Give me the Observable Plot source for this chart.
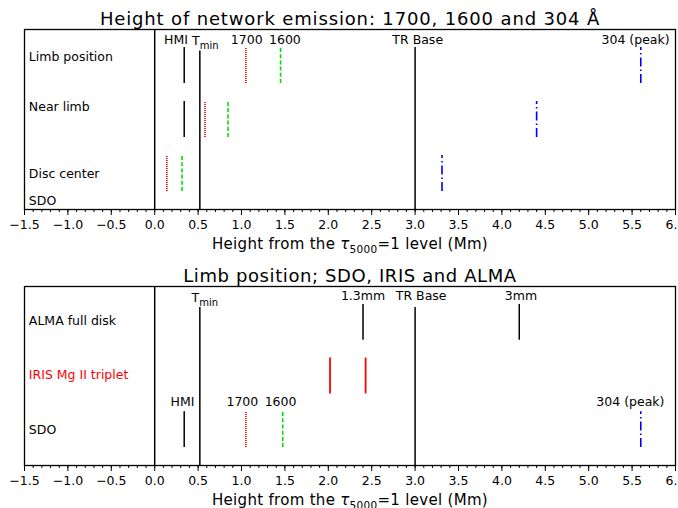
<!DOCTYPE html>
<html><head><meta charset="utf-8">
<script src="https://cdn.jsdelivr.net/npm/d3@7"></script>
<script src="https://cdn.jsdelivr.net/npm/@observablehq/plot@0.6"></script>
<style>body{margin:0;background:#fff} svg{display:block}</style>
</head><body><div id="chart"></div>
<script>
// ---------- data ----------
const xDomain = [-1.5, 6.0];
const majorTicks = d3.range(-15, 61, 5).map(d => d / 10);
const minorTicks = d3.range(-15, 61, 1).map(d => d / 10);
const axisLabel = "Height from the τ5000=1 level (Mm)";

// reference heights (Mm)
const tmin = 0.52;
const trBase = 3.0;

// panel 1: network emission heights per position
const title1 = "Height of network emission: 1700, 1600 and 304 Å";
const rows1 = ["Limb position", "Near limb", "Disc center"];
const hmi1 = [0.34, 0.34];
const h1700_1 = [1.05, 0.58, 0.14];
const h1600_1 = [1.45, 0.845, 0.315];
const h304_1 = [5.60, 4.40, 3.31];
const topNames1 = ["HMI", "1700", "1600", "TR Base", "304 (peak)"];
const topAt1 = [0.245, 1.06, 1.50, 3.03, 5.54];

// panel 2: limb position, SDO / IRIS / ALMA
const title2 = "Limb position; SDO, IRIS and ALMA";
const rows2 = ["ALMA full disk", "IRIS Mg II triplet", "SDO"];
const almaNames = ["1.3mm", "3mm"];
const almaH = [2.40, 4.20];
const irisH = [2.02, 2.43];
const sdoNames = ["HMI", "1700", "1600", "304 (peak)"];
const sdoH = [0.34, 1.05, 1.475, 5.60];
const sdoAt = [0.32, 1.01, 1.45, 5.48];
const topNames2 = ["1.3mm", "TR Base", "3mm"];
const topAt2 = [2.40, 3.07, 4.22];

// ---------- styles / layout ----------
const FONT = "'DejaVu Sans', sans-serif";
const S = {
  black:   {stroke: "black", strokeWidth: 1.5},
  dotted:  {stroke: "#ff0000", strokeWidth: 1.7, strokeDasharray: "1,1"},
  dashed:  {stroke: "#00dd00", strokeWidth: 1.6, strokeDasharray: "4,2.2"},
  dashdot: {stroke: "#0000ff", strokeWidth: 1.6, strokeDasharray: "9,3,1.5,3"},
  red:     {stroke: "#ff0000", strokeWidth: 1.8}
};
const seg = (x, i) => ({x, y1: 7 - 3 * i, y2: 9 - 3 * i});
const segs = arr => arr.map((x, i) => seg(x, i));

function panel(title, mt, mb, marks) {
  return Plot.plot({
    width: 678, height: 254,
    marginTop: mt, marginBottom: mb, marginLeft: 24, marginRight: 3,
    x: {domain: xDomain, axis: null, label: null},
    y: {domain: [0, 10], axis: null, label: null},
    style: {fontFamily: FONT, fontSize: "12.5px", background: "white", color: "black"},
    marks: [
      Plot.ruleX([0], {x: d => d, ...S.black}),
      ...marks,
      Plot.frame({stroke: "black", strokeWidth: 1.3}),
      Plot.axisX({ticks: minorTicks, tickSize: 3, tickFormat: () => "", label: null}),
      Plot.axisX({ticks: majorTicks, tickSize: 6, tickPadding: 5, tickFormat: d3.format(".1f"), fontSize: 12.5, label: null}),
      Plot.text([title], {text: d => d, frameAnchor: "top", lineAnchor: "bottom", dy: -5, fontSize: 18}),
      Plot.text([axisLabel], {text: d => d, frameAnchor: "bottom", lineAnchor: "bottom", dy: 39, fontSize: 15})
    ]
  });
}

const p1 = panel(title1, 29, 45, [
  Plot.ruleX([tmin], {x: d => d, y1: 0, y2: 8.8, ...S.black}),
  Plot.ruleX([trBase], {x: d => d, y1: 0, y2: 9.0, ...S.black}),
  Plot.ruleX(segs(hmi1), {x: "x", y1: "y1", y2: "y2", ...S.black}),
  Plot.ruleX(segs(h1700_1), {x: "x", y1: "y1", y2: "y2", ...S.dotted}),
  Plot.ruleX(segs(h1600_1), {x: "x", y1: "y1", y2: "y2", ...S.dashed}),
  Plot.ruleX(segs(h304_1), {x: "x", y1: "y1", y2: "y2", ...S.dashdot}),
  Plot.text(topNames1, {x: (d, i) => topAt1[i], y: 9.22, text: d => d, lineAnchor: "bottom"}),
  Plot.text(["Tmin"], {x: 0.43, y: 9.13, text: d => d, textAnchor: "start", lineAnchor: "bottom"}),
  Plot.text(rows1.concat(["SDO"]), {x: -1.45, y: (d, i) => [8.45, 5.72, 1.97, 0.45][i], text: d => d, textAnchor: "start", lineAnchor: "middle"})
]);

const p2 = panel(title2, 32, 43, [
  Plot.ruleX([tmin], {x: d => d, y1: 0, y2: 8.83, ...S.black}),
  Plot.ruleX([trBase], {x: d => d, y1: 0, y2: 8.83, ...S.black}),
  Plot.ruleX(almaH.map(x => seg(x, 0)), {x: "x", y1: "y1", y2: "y2", ...S.black}),
  Plot.ruleX(irisH.map(x => seg(x, 1)), {x: "x", y1: "y1", y2: "y2", ...S.red}),
  Plot.ruleX([seg(sdoH[0], 2)], {x: "x", y1: "y1", y2: "y2", ...S.black}),
  Plot.ruleX([seg(sdoH[1], 2)], {x: "x", y1: "y1", y2: "y2", ...S.dotted}),
  Plot.ruleX([seg(sdoH[2], 2)], {x: "x", y1: "y1", y2: "y2", ...S.dashed}),
  Plot.ruleX([seg(sdoH[3], 2)], {x: "x", y1: "y1", y2: "y2", ...S.dashdot}),
  Plot.text(topNames2, {x: (d, i) => topAt2[i], y: 9.22, text: d => d, lineAnchor: "bottom"}),
  Plot.text(["Tmin"], {x: 0.425, y: 9.13, text: d => d, textAnchor: "start", lineAnchor: "bottom"}),
  Plot.text(sdoNames, {x: (d, i) => sdoAt[i], y: 3.35, text: d => d, lineAnchor: "bottom"}),
  Plot.text(rows2, {x: -1.45, y: (d, i) => [8.1, 5.05, 1.98][i], text: d => d, textAnchor: "start", lineAnchor: "middle",
    fill: (d, i) => i === 1 ? "red" : "black"})
]);

// rich text: subscripts and title spacing
function richText(svg) {
  d3.select(svg).selectAll("text").each(function () {
    const t = this.textContent;
    const el = d3.select(this);
    if (t === "Tmin") {
      el.text("");
      el.append("tspan").text("T");
      el.append("tspan").attr("font-size", "10px").attr("dy", "3.5").text("min");
    } else if (t === axisLabel) {
      el.text("");
      el.attr("letter-spacing", "0.3");
      el.append("tspan").text("Height from the ");
      el.append("tspan").attr("font-style", "italic").text("τ");
      el.append("tspan").attr("font-size", "10.5px").attr("dy", "4").text("5000");
      el.append("tspan").attr("dy", "-4").text("=1 level (Mm)");
    } else if (t === title1) {
      el.attr("letter-spacing", "0.85");
    } else if (t === title2) {
      el.attr("letter-spacing", "0.6");
    }
  });
}
richText(p1); richText(p2);
const root = document.getElementById("chart");
root.append(p1, p2);
</script>
</body></html>
